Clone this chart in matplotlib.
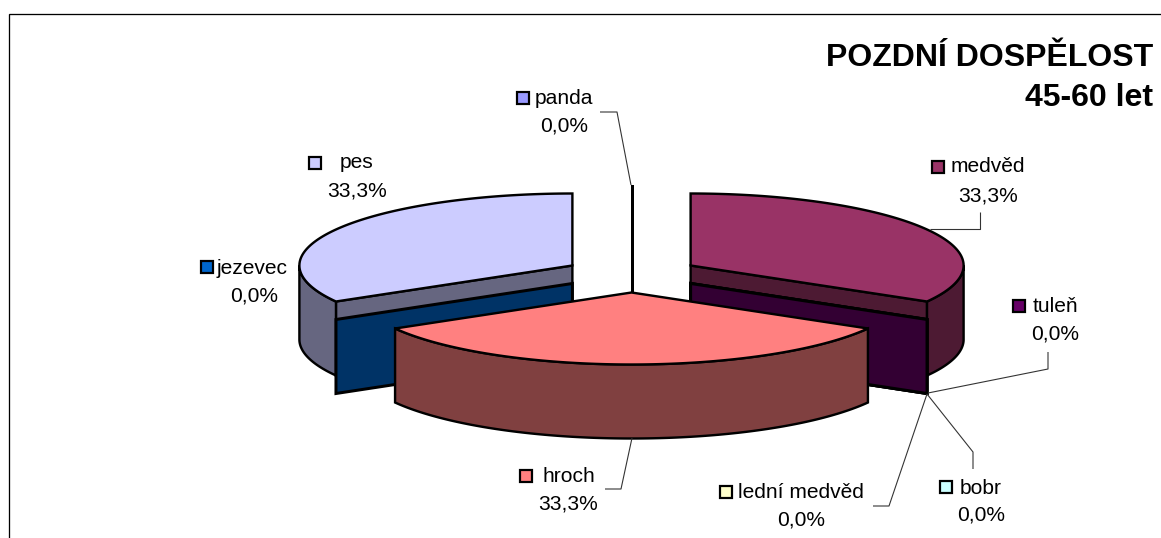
import numpy as np
import matplotlib
matplotlib.use("Agg")
import matplotlib.pyplot as plt
from matplotlib.colors import to_rgb
from matplotlib.patches import Polygon, Rectangle

# ---- data (clockwise from 12 o'clock) ----
categories = ["panda", "medvěd", "tuleň", "bobr", "lední medvěd", "hroch", "jezevec", "pes"]
values = [0, 33.3, 0, 0, 0, 33.3, 0, 33.3]
colors = ["#9999FF", "#993366", "#660066", "#CCFFFF", "#FFFFCC", "#FF8080", "#0066CC", "#CCCCFF"]
title_lines = ["POZDNÍ DOSPĚLOST", "45-60 let"]

# ---- layout (pixels) ----
W, H = 1161, 538
CX, CY = 631.5, 274.5
RX, RY = 273.0, 72.0
DEPTH = 74.0
EXPLODE = 0.25
PX = 0.72  # one pixel in points at dpi 100
EDGE = 2.4
FS = 15.1

# name (left x, y), percent (centre x, y), key centre (x, y)
name_pos = [(535, 98), (951, 167), (1033, 307), (960, 488), (738, 492), (543, 476), (217, 268), (340, 163)]
pct_pos = [(564, 126), (988, 196), (1055, 334), (981, 515), (801, 520), (568, 504), (254, 296), (357, 191)]
key_pos = [(523, 98), (938, 167), (1019, 306), (946, 487), (726, 492), (526, 476), (207, 267), (315, 163)]
leaders = [
    [(600, 112), (617, 112), (631, 185)],
    [(980, 212), (980, 229), (930, 229)],
    [(1048, 352), (1048, 369), (928, 393)],
    [(973, 469), (973, 452), (927, 394)],
    [(873, 506), (889, 506), (927, 394)],
    [(605, 489), (621, 489), (632, 438)],
]

fig = plt.figure(figsize=(W / 100, H / 100), dpi=100, facecolor="white")
ax = fig.add_axes([0, 0, 1, 1])
ax.set_xlim(0, W)
ax.set_ylim(H, 0)
ax.axis("off")

FONT = "Liberation Sans"


def pt(ox, oy, deg):
    t = np.radians(deg)
    return np.array([ox + RX * np.sin(t), oy - RY * np.cos(t)])


def arc(ox, oy, a, b, n=120):
    t = np.radians(np.linspace(a, b, n))
    return np.column_stack([ox + RX * np.sin(t), oy - RY * np.cos(t)])


def poly(points, color, lw=EDGE):
    ax.add_patch(Polygon(points, closed=True, facecolor=color, edgecolor="black",
                         linewidth=lw * PX, joinstyle="miter"))


def cut_face(ox, oy, deg, color, lw=EDGE):
    p = pt(ox, oy, deg)
    poly([(ox, oy), p, p + (0, DEPTH), (ox, oy + DEPTH)], color, lw)


total = sum(values)
bounds = np.cumsum([0] + values) / total * 360
wedges = []
for i, name in enumerate(categories):
    s, e = bounds[i], bounds[i + 1]
    wedges.append((i, s, e, np.cos(np.radians((s + e) / 2))))

# back to front; zero wedges sharing an angle: first listed ends up on top
order = sorted(reversed(wedges), key=lambda w: -round(w[3], 6))
for i, s, e, _ in order:
    face = to_rgb(colors[i])
    dark = tuple(c * 0.5 for c in face)
    mid = np.radians((s + e) / 2)
    ox = CX + EXPLODE * RX * np.sin(mid)
    oy = CY - EXPLODE * RY * np.cos(mid)
    if e - s == 0:
        cut_face(ox, oy, s, dark, lw=3.0)
        continue
    if 0 < e < 180:
        cut_face(ox, oy, e, dark)
    if 180 < s < 360:
        cut_face(ox, oy, s, dark)
    a, b = max(s, 90), min(e, 270)
    if b > a:
        top = arc(ox, oy, a, b)
        poly(np.vstack([top, (top + (0, DEPTH))[::-1]]), dark)
    poly(np.vstack([[(ox, oy)], arc(ox, oy, s, e)]), face)

# leader lines
for path in leaders:
    xs, ys = zip(*path)
    ax.plot(xs, ys, color="#333333", linewidth=1.1 * PX, solid_capstyle="butt", zorder=5)

# labels
for i, name in enumerate(categories):
    kx, ky = key_pos[i]
    ax.add_patch(Rectangle((kx - 6, ky - 6), 12, 12, facecolor=colors[i], edgecolor="black",
                           linewidth=2.2 * PX, zorder=6))
    ax.text(*name_pos[i], name, family=FONT, fontsize=FS, ha="left", va="center", color="black", zorder=6)
    pct = f"{values[i] / total * 100:.1f}".replace(".", ",") + "%"
    ax.text(*pct_pos[i], pct, family=FONT, fontsize=FS, ha="center", va="center", color="black", zorder=6)

# title
ax.text(1153, 58, title_lines[0], family=FONT, fontweight="bold", fontsize=23, ha="right", va="center")
ax.text(1153, 98, title_lines[1], family=FONT, fontweight="bold", fontsize=23, ha="right", va="center")

# chart frame (top and left edges visible)
ax.plot([W, 8.5, 8.5], [13.5, 13.5, H], color="black", linewidth=1.3 * PX, solid_joinstyle="miter")

fig.savefig("out.png", dpi=100, facecolor="white")
